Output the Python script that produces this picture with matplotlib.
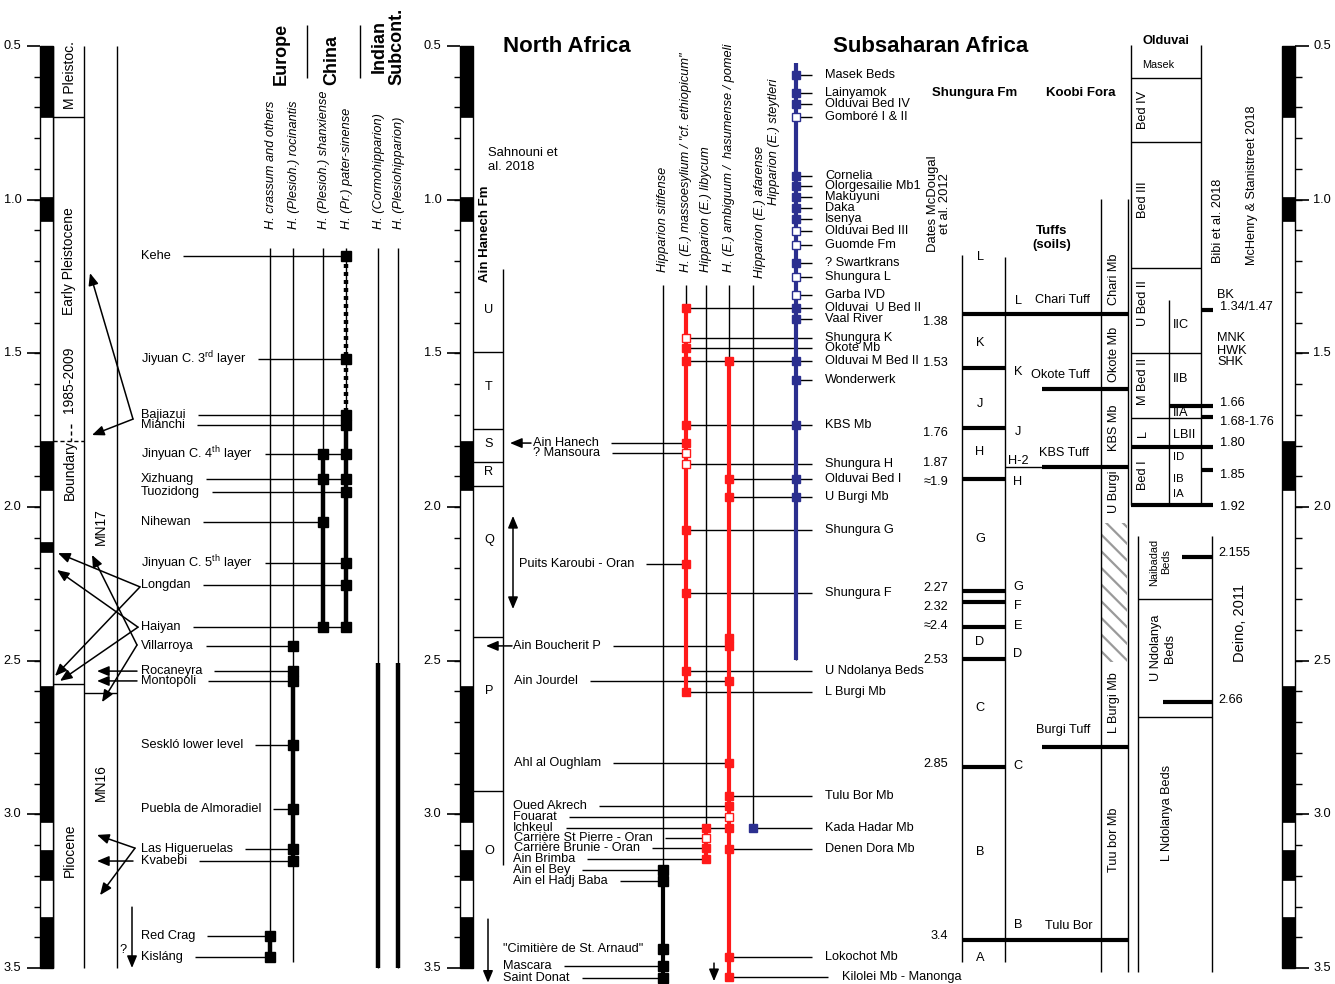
import numpy as np
import matplotlib
matplotlib.use("Agg")
from matplotlib import pyplot as plt
from matplotlib.patches import Rectangle, FancyArrowPatch

plt.rcParams["font.family"] = ["Liberation Sans", "DejaVu Sans"]
plt.rcParams["mathtext.fontset"] = "custom"
plt.rcParams["mathtext.rm"] = "Liberation Sans"
plt.rcParams["mathtext.it"] = "Liberation Sans:italic"
plt.rcParams["hatch.linewidth"] = 1.6

FS = 9.2
RED = "#ff1a1a"
BLUE = "#2b2f8f"

# ---------------- data (ages in Ma) ----------------
age_major = [0.5, 1.0, 1.5, 2.0, 2.5, 3.0, 3.5]
polarity_normal = [(0.5, 0.73), (0.99, 1.07), (1.785, 1.945), (2.582, 3.024),
                   (3.117, 3.215), (3.334, 3.5)]
reunion_event = [(2.114, 2.146)]

# Europe / China / Indian subcontinent
eu_taxa = ["cra", "roc", "sha", "pat", "cor", "ple"]
eu_taxa_names = ["H. crassum and others", "H. (Plesioh.) rocinantis",
                 "H. (Plesioh.) shanxiense", "H. (Pr.) pater-sinense",
                 "H. (Cormohipparion)", "H. (Plesiohipparion)"]
eu_line_top = [1.157, 1.157, 1.157, 1.157, 1.157, 1.157]
eu_line_bottom = [3.48, 3.48, 2.391, 2.391, 3.5, 3.5]
eu_range_taxon = ["pat", "pat", "sha", "roc", "cra", "cor", "ple"]
eu_range_from = [1.183, 1.701, 1.828, 2.534, 3.396, 2.508, 2.508]
eu_range_to = [1.701, 2.391, 2.391, 3.152, 3.464, 3.5, 3.5]
eu_range_dotted = [True, False, False, False, False, False, False]

eu_sites = ["Kehe", r"Jiyuan C. 3$^{\rm rd}$ layer", "Bajiazui", "Mianchi",
            r"Jinyuan C. 4$^{\rm th}$ layer", "Xizhuang", "Tuozidong", "Nihewan",
            r"Jinyuan C. 5$^{\rm th}$ layer", "Longdan", "Haiyan", "Villarroya",
            "Rocaneyra", "Montopoli", "Seskló lower level", "Puebla de Almoradiel",
            "Las Higueruelas", "Kvabebi", "Red Crag", "Kisláng"]
eu_ages = [1.183, 1.518, 1.701, 1.733, 1.828, 1.909, 1.951, 2.049, 2.182, 2.254,
           2.391, 2.452, 2.534, 2.566, 2.775, 2.983, 3.113, 3.152, 3.396, 3.464]
eu_records = [["pat"], ["pat"], ["pat"], ["pat"], ["sha", "pat"], ["sha", "pat"],
              ["pat"], ["sha"], ["pat"], ["pat"], ["sha", "pat"], ["roc"], ["roc"],
              ["roc"], ["roc"], ["roc"], ["roc"], ["roc"], ["cra"], ["cra"]]

# epochs / MN zones (left)
epoch_names = ["M Pleistoc.", "Early Pleistocene", "1985-2009", "Boundary", "Pliocene"]
epoch_label_ages = [0.595, 1.2, 1.587, 1.88, 3.116]
mn_names = ["MN17", "MN16"]
mn_label_ages = [2.065, 2.898]

# correlation arrows (tail age, head age), left block
arrow_tail = [1.714, 1.714, 2.26, 2.26, 2.391, 2.391, 2.449, 2.449, 2.534, 2.566, 3.11, 3.11, 3.152]
arrow_head = [1.239, 1.766, 2.15, 2.55, 2.205, 2.566, 2.156, 2.635, 2.534, 2.566, 3.067, 3.263, 3.152]

# North / Subsaharan Africa taxa
af_taxa = ["sit", "mas", "lib", "amb", "afa", "ste"]
af_taxa_names = ["Hipparion sitifense", 'H. (E.) massoesylium / "cf. ethiopicum"',
                 "Hipparion (E.) libycum", "H. (E.) ambiguum /  hasumense / pomeli",
                 "Hipparion (E.) afarense", "Hipparion (E.) steytleri"]
af_line_top = [1.278, 1.278, 1.278, 1.278, 1.278, 0.555]
af_line_bottom = [3.533, 2.602, 3.146, 3.53, 3.045, 2.498]
af_range_from = [3.181, 1.353, 3.045, 1.525, None, 0.555]
af_range_to = [3.533, 2.602, 3.146, 3.53, None, 2.498]
af_colors = ["black", RED, RED, RED, BLUE, BLUE]

ain_hanech_units = ["U", "T", "S", "R", "Q", "P", "O"]
ain_hanech_unit_ages = [1.359, 1.61, 1.795, 1.886, 2.107, 2.599, 3.119]
ain_hanech_bounds = [1.496, 1.746, 1.854, 1.932, 2.423, 2.924]

na_sites = ["Ain Hanech", "? Mansoura", "Puits Karoubi - Oran", "Ain Boucherit P",
            "Ain Jourdel", "Ahl al Oughlam", "Oued Akrech", "Fouarat", "Ichkeul",
            "Carrière St Pierre - Oran", "Carrière Brunie - Oran", "Ain Brimba",
            "Ain el Bey", "Ain el Hadj Baba", '"Cimitière de St. Arnaud"', "Mascara",
            "Saint Donat"]
na_ages = [1.792, 1.824, 2.186, 2.452, 2.566, 2.833, 2.973, 3.009, 3.045, 3.077,
           3.11, 3.146, 3.181, 3.217, 3.438, 3.494, 3.533]
na_records = [[("mas", 1)], [("mas", 0)], [("mas", 1)], [("amb", 1)], [("amb", 1)],
              [("amb", 1)], [("amb", 1)], [("amb", 0)], [("lib", 1), ("amb", 1)],
              [("lib", 0)], [("lib", 1)], [("lib", 1)], [("sit", 1)], [("sit", 1)],
              [("sit", 1)], [("sit", 1)], [("sit", 1)]]
na_connect = [True] * 14 + [False, True, True]
extra_records = [("amb", 2.427)]

ss_sites = ["Masek Beds", "Lainyamok", "Olduvai Bed IV", "Gomboré I & II", "Cornelia",
            "Olorgesailie Mb1", "Makuyuni", "Daka", "Isenya", "Olduvai Bed III",
            "Guomde Fm", "? Swartkrans", "Shungura L", "Garba IVD", "Olduvai  U Bed II",
            "Vaal River", "Shungura K", "Okote Mb", "Olduvai M Bed II", "Wonderwerk",
            "KBS Mb", "Shungura H", "Olduvai Bed I", "U Burgi Mb", "Shungura G",
            "Shungura F", "U Ndolanya Beds", "L Burgi Mb", "Tulu Bor Mb",
            "Kada Hadar Mb", "Denen Dora Mb", "Lokochot Mb", "Kilolei Mb - Manonga"]
ss_ages = [0.594, 0.653, 0.689, 0.731, 0.923, 0.956, 0.991, 1.027, 1.063, 1.102,
           1.148, 1.206, 1.252, 1.31, 1.353, 1.388, 1.45, 1.483, 1.525, 1.587,
           1.733, 1.86, 1.909, 1.968, 2.075, 2.28, 2.534, 2.602, 2.941, 3.045,
           3.113, 3.464, 3.53]
ss_records = [[("ste", 1)], [("ste", 1)], [("ste", 1)], [("ste", 0)], [("ste", 1)],
              [("ste", 1)], [("ste", 1)], [("ste", 1)], [("ste", 1)], [("ste", 0)],
              [("ste", 0)], [("ste", 1)], [("ste", 0)], [("ste", 0)],
              [("mas", 1), ("ste", 1)], [("ste", 1)], [("mas", 0)], [("mas", 1)],
              [("mas", 1), ("amb", 1), ("ste", 1)], [("ste", 1)],
              [("mas", 1), ("ste", 1)], [("mas", 0)], [("amb", 1), ("ste", 1)],
              [("amb", 1), ("ste", 1)], [("mas", 1)], [("mas", 1)], [("mas", 1)],
              [("mas", 1)], [("amb", 1)], [("afa", 1)], [("amb", 1)], [("amb", 1)],
              [("amb", 1)]]

# Shungura / Koobi Fora
shungura_tuff_ages = [1.372, 1.548, 1.743, 1.909, 2.273, 2.309, 2.39, 2.495, 2.846, 3.409]
shungura_dates = ["1.38", "1.53", "1.76", "1.87", "≈1.9", "2.27", "2.32", "≈2.4",
                  "2.53", "2.85", "3.4"]
shungura_date_ages = [1.398, 1.532, 1.759, 1.857, 1.919, 2.264, 2.326, 2.387, 2.498,
                      2.836, 3.396]
shungura_members = ["L", "K", "J", "H", "G", "D", "C", "B", "A"]
shungura_member_ages = [1.187, 1.466, 1.665, 1.821, 2.104, 2.439, 2.654, 3.123, 3.468]
koobi_letters = ["L", "K", "J", "H-2", "H", "G", "F", "E", "D", "C", "B"]
koobi_letter_ages = [1.33, 1.561, 1.756, 1.851, 1.919, 2.261, 2.322, 2.387, 2.478,
                     2.843, 3.36]
koobi_tuffs = ["Chari Tuff", "Okote Tuff", "KBS Tuff", "Burgi Tuff", "Tulu Bor"]
koobi_tuff_label_ages = [1.327, 1.571, 1.824, 2.726, 3.363]
koobi_tuff_bar_ages = [1.616, 1.87, 2.781]
koobi_members = ["Chari Mb", "Okote Mb", "KBS Mb", "U Burgi", "L Burgi Mb", "Tuu bor Mb"]
koobi_member_ages = [1.258, 1.505, 1.743, 1.951, 2.635, 3.084]
koobi_hatch = (2.052, 2.504)

# Olduvai
olduvai_beds = ["Bed IV", "Bed III", "U Bed II", "M Bed II", "L", "Bed I"]
olduvai_bed_ages = [0.708, 1.001, 1.336, 1.593, 1.762, 1.896]
olduvai_bounds = [0.604, 0.812, 1.222, 1.499, 1.711]
olduvai_sub = ["IIC", "IIB", "IIA", "LBII", "ID", "IB", "IA"]
olduvai_sub_ages = [1.408, 1.584, 1.694, 1.766, 1.837, 1.909, 1.958]
olduvai_sites = ["BK", "MNK", "HWK", "SHK"]
olduvai_site_ages = [1.31, 1.45, 1.492, 1.528]
olduvai_dates = ["1.34/1.47", "1.66", "1.68-1.76", "1.80", "1.85", "1.92"]
olduvai_date_ages = [1.349, 1.662, 1.723, 1.792, 1.896, 2.0]
olduvai_date_bar_ages = [1.359, 1.671, 1.707, 1.805, 1.88, 1.994]
ndolanya_bounds = [2.3, 2.684]
ndolanya_dates = ["2.155", "2.66"]
ndolanya_date_ages = [2.15, 2.628]
ndolanya_bar_ages = [2.163, 2.635]

# ---------------- layout ----------------
AGE_TOP_EDGE = 0.5 - 46 / 307.33
AGE_BOTTOM_EDGE = 0.5 + 938 / 307.33
eu_x = dict(zip(eu_taxa, [270, 293, 323, 346, 378, 398]))
af_x = dict(zip(af_taxa, [663, 686, 706, 729, 753, 796]))

fig = plt.figure(figsize=(13.35, 9.84), dpi=100)
ax = fig.add_axes([0, 0, 1, 1])
ax.set_xlim(0, 1335)
ax.set_ylim(AGE_BOTTOM_EDGE, AGE_TOP_EDGE)
ax.axis("off")
renderer = fig.canvas.get_renderer()


def hline(x0, x1, a, lw=1.0, color="black", **kw):
    ax.plot([x0, x1], [a, a], color=color, lw=lw, solid_capstyle="butt", **kw)


def vline(x, a0, a1, lw=1.0, color="black", **kw):
    ax.plot([x, x], [a0, a1], color=color, lw=lw, solid_capstyle="butt", **kw)


def vtext(x, a, s, **kw):
    kw.setdefault("fontsize", FS)
    kw.setdefault("ha", "center")
    kw.setdefault("va", "center")
    return ax.text(x, a, s, rotation=90, rotation_mode="anchor" if False else "default", **kw)


def text_right(t):
    bb = t.get_window_extent(renderer=renderer)
    return ax.transData.inverted().transform((bb.x1, bb.y0))[0]


def arrow(p0, p1, style="-|>,head_length=0.6,head_width=0.25"):
    ax.add_patch(FancyArrowPatch(p0, p1, arrowstyle=style, mutation_scale=12,
                                 lw=1.1, color="black", shrinkA=0, shrinkB=0, zorder=5))


def marker(x, a, color, filled, size=6.2):
    ax.plot(x, a, "s", ms=size, mfc=color if filled else "white", mec=color,
            mew=1.0, zorder=6)


def polarity_column(x0, extra=()):
    ax.add_patch(Rectangle((x0, 0.5), 13, 3.0, facecolor="white", edgecolor="black",
                           lw=1.0, zorder=3))
    for a0, a1 in list(polarity_normal) + list(extra):
        ax.add_patch(Rectangle((x0, a0), 13, a1 - a0, facecolor="black",
                               edgecolor="black", lw=0.5, zorder=3))


def age_axis(x_col, side):
    minor = np.arange(0.6, 3.5, 0.1)
    for a in minor:
        hline(x_col, x_col + side * 6.5, a, lw=1.0)
    for a in age_major:
        hline(x_col, x_col + side * 13.5, a, lw=1.2)
        ax.text(x_col + side * 18.5, a, f"{a:.1f}", ha="right" if side < 0 else "left",
                va="center", fontsize=FS)


# ---------------- polarity columns ----------------
polarity_column(40, reunion_event)
age_axis(40, -1)
polarity_column(460)
age_axis(460, -1)
polarity_column(1282)
age_axis(1295, 1)

# ---------------- epochs / MN ----------------
for x in (53, 84, 117):
    vline(x, 0.5, 3.5)
hline(53, 84, 0.73)
hline(53, 84, 1.785, ls=(0, (3, 2)))
vline(71, 1.73, 1.785, ls=(0, (3, 2)))
hline(40, 84, 2.576)
hline(84, 117, 2.605)
for name, a in zip(epoch_names, epoch_label_ages):
    vtext(69.5, a, name, fontsize=10)
for name, a in zip(mn_names, mn_label_ages):
    vtext(100.5, a, name, fontsize=10)

# correlation arrows on the left
eu_arrow_tail_x = [133, 133, 140, 140, 138, 138, 137, 137, 137, 137, 135, 135, 133]
eu_arrow_head_x = [90, 92, 58, 55, 57, 60, 92, 102, 97, 97, 97, 100, 97]
for xt, at, xh, ah in zip(eu_arrow_tail_x, arrow_tail, eu_arrow_head_x, arrow_head):
    arrow((xt, at), (xh, ah))
arrow((132, 3.302), (132, 3.5))
ax.text(123, 3.44, "?", ha="center", va="center", fontsize=FS)

# ---------------- Europe / China taxa ----------------
for k, name, a0, a1 in zip(eu_taxa, eu_taxa_names, eu_line_top, eu_line_bottom):
    vline(eu_x[k], a0, a1, lw=1.0)
    vtext(eu_x[k] + 1, 1.095, name, va="bottom", style="italic")
for k, a0, a1, dotted in zip(eu_range_taxon, eu_range_from, eu_range_to, eu_range_dotted):
    ax.plot([eu_x[k], eu_x[k]], [a0, a1], color="black", lw=3.2,
            ls=(0, (0.9, 0.9)) if dotted else "-", solid_capstyle="butt",
            dash_capstyle="butt", zorder=4)

vtext(281, 0.627, "Europe", va="bottom", fontsize=13, fontweight="bold")
vtext(332, 0.627, "China", va="bottom", fontsize=13, fontweight="bold")
vtext(388, 0.627, "Indian\nSubcont.", va="bottom", fontsize=13, fontweight="bold",
      linespacing=1.0)
vline(307, 0.432, 0.604)
vline(360, 0.432, 0.604)

for name, a, taxa in zip(eu_sites, eu_ages, eu_records):
    t = ax.text(141, a, name, ha="left", va="center", fontsize=FS)
    x_end = max(eu_x[k] for k in taxa)
    hline(text_right(t) + 12, x_end, a)
    for k in taxa:
        marker(eu_x[k], a, "black", True, size=7)

# ---------------- North Africa ----------------
ax.text(567, 0.503, "North Africa", ha="center", va="center", fontsize=16,
        fontweight="bold")
ax.text(488, 0.871, "Sahnouni et\nal. 2018", ha="left", va="center", fontsize=9.4,
        linespacing=1.25)
vtext(485, 1.268, "Ain Hanech Fm", va="bottom", fontsize=9.5, fontweight="bold")
vline(503, 1.226, 3.165)
for a in ain_hanech_bounds:
    hline(473, 503, a)
for u, a in zip(ain_hanech_units, ain_hanech_unit_ages):
    ax.text(489, a, u, ha="center", va="center", fontsize=FS)

arrow((531, 1.792), (510, 1.792))
arrow((513, 2.029), (513, 2.332), style="<|-|>,head_length=0.6,head_width=0.25")
arrow((512, 2.452), (486, 2.452))
arrow((488, 3.341), (488, 3.548))
arrow((714, 3.484), (714, 3.543))

for k, name, a0, a1, r0, r1, c in zip(af_taxa, af_taxa_names, af_line_top,
                                      af_line_bottom, af_range_from, af_range_to,
                                      af_colors):
    vline(af_x[k], a0, a1, lw=1.0)
    if r0 is not None:
        ax.plot([af_x[k], af_x[k]], [r0, r1], color=c, lw=3.0,
                solid_capstyle="butt", zorder=4)
af_header_x = [663, 686, 706, 729, 760, 774]
af_header_bottom = [1.235, 1.235, 1.235, 1.235, 1.255, 1.017]
for name, x, a in zip(af_taxa_names, af_header_x, af_header_bottom):
    vtext(x, a, name, va="bottom", style="italic")

na_label_x = [533, 533, 519, 513, 514, 514, 513, 513, 513, 514, 514, 513, 513, 513,
              503, 503, 503]
for name, a, recs, x, conn in zip(na_sites, na_ages, na_records, na_label_x, na_connect):
    t = ax.text(x, a, name, ha="left", va="center", fontsize=FS, linespacing=1.0)
    x_end = max(af_x[k] for k, _ in recs)
    if conn:
        hline(text_right(t) + 12, x_end, a)
    for k, f in recs:
        c = af_colors[af_taxa.index(k)]
        marker(af_x[k], a, c, f, size=7 if c == "black" else 6.2)
for k, a in extra_records:
    marker(af_x[k], a, af_colors[af_taxa.index(k)], True)

# ---------------- Subsaharan Africa ----------------
ax.text(931, 0.503, "Subsaharan Africa", ha="center", va="center", fontsize=16,
        fontweight="bold")
for name, a, recs in zip(ss_sites, ss_ages, ss_records):
    x0 = min(af_x[k] for k, _ in recs)
    last = name.startswith("Kilolei")
    hline(x0, 828 if last else 812, a)
    ax.text(842 if last else 825, a, name, ha="left", va="center", fontsize=FS)
    for k, f in recs:
        c = af_colors[af_taxa.index(k)]
        marker(af_x[k], a, c, f, size=6.2 if c == RED else 5.8)

# Shungura
ax.text(975, 0.653, "Shungura Fm", ha="center", va="center", fontsize=9.5,
        fontweight="bold")
vtext(939, 1.17, "Dates McDougal\net al. 2012", va="bottom", fontsize=9.4,
      linespacing=1.1)
vline(962, 1.18, 3.48)
vline(1005, 1.187, 3.48)
for i, a in enumerate(shungura_tuff_ages):
    wide = i == 0 or i == len(shungura_tuff_ages) - 1
    hline(962, 1128 if wide else 1005, a, lw=3.0)
for s, a in zip(shungura_dates, shungura_date_ages):
    ax.text(948, a, s, ha="right", va="center", fontsize=FS)
for s, a in zip(shungura_members, shungura_member_ages):
    ax.text(980, a, s, ha="center", va="center", fontsize=FS)

# Koobi Fora
ax.text(1081, 0.653, "Koobi Fora", ha="center", va="center", fontsize=9.5,
        fontweight="bold")
ax.text(1052, 1.125, "Tuffs\n(soils)", ha="center", va="center", fontsize=9.5,
        fontweight="bold", linespacing=1.15)
vline(1101, 0.998, 3.513)
vline(1128, 0.998, 3.513)
ax.add_patch(Rectangle((1102, koobi_hatch[0]), 25, koobi_hatch[1] - koobi_hatch[0],
                       facecolor="none", edgecolor="#9a9a9a", lw=0, hatch="\\\\"))
for s, a in zip(koobi_letters, koobi_letter_ages):
    ax.text(1018, a, s, ha="center", va="center", fontsize=FS)
koobi_tuff_x = [1035, 1031, 1039, 1036, 1045]
for s, a, x in zip(koobi_tuffs, koobi_tuff_label_ages, koobi_tuff_x):
    ax.text(x, a, s, ha="left", va="center", fontsize=FS)
for a in koobi_tuff_bar_ages:
    hline(1042, 1128, a, lw=3.0)
hline(1005, 1042, 1.87, lw=1.0)
for s, a in zip(koobi_members, koobi_member_ages):
    vtext(1114, a, s)

# Olduvai
ax.text(1166, 0.484, "Olduvai", ha="center", va="center", fontsize=9.3,
        fontweight="bold")
ax.text(1142, 0.562, "Masek", ha="left", va="center", fontsize=7.8)
vline(1131, 0.497, 1.994)
vline(1201, 0.497, 1.994)
vline(1169, 1.327, 1.987)
for a in olduvai_bounds:
    hline(1131, 1201, a)
for s, a in zip(olduvai_beds, olduvai_bed_ages):
    vtext(1143, a, s)
for s, a in zip(olduvai_sub, olduvai_sub_ages):
    ax.text(1173, a, s, ha="left", va="center", fontsize=FS if len(s) > 2 else 8.2)
for s, a in zip(olduvai_sites, olduvai_site_ages):
    ax.text(1217, a, s, ha="left", va="center", fontsize=FS, linespacing=1.0)
olduvai_bar_x0 = [1201, 1169, 1201, 1131, 1201, 1131]
for s, a, ab, x0 in zip(olduvai_dates, olduvai_date_ages, olduvai_date_bar_ages,
                        olduvai_bar_x0):
    hline(x0, 1213, ab, lw=3.0)
    ax.text(1220, a, s, ha="left", va="center", fontsize=FS)
vtext(1218, 1.206, "Bibi et al. 2018", va="bottom")
vtext(1252, 1.213, "McHenry & Stanistreet 2018", va="bottom")

vline(1138, 2.094, 3.513)
vline(1212, 2.094, 3.513)
for a in ndolanya_bounds:
    hline(1138, 1212, a)
for s, a, ab, x0 in zip(ndolanya_dates, ndolanya_date_ages, ndolanya_bar_ages,
                        [1182, 1163]):
    hline(x0, 1212, ab, lw=3.0)
    ax.text(1218, a, s, ha="left", va="center", fontsize=FS)
vtext(1160, 2.179, "Naibadad\nBeds", fontsize=7.8, linespacing=1.25)
vtext(1163, 2.459, "U Ndolanya\nBeds", linespacing=1.15)
vtext(1167, 2.996, "L Ndolanya Beds")
vtext(1240, 2.378, "Deino, 2011", fontsize=10.5)

fig.savefig("out.png", dpi=100)
